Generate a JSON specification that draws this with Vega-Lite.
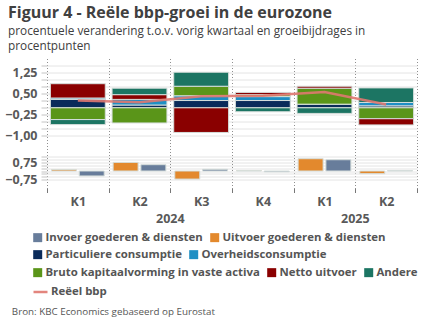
{
  "$schema": "https://vega.github.io/schema/vega-lite/v6.json",
  "width": 370,
  "height": 130,
  "padding": {"left": 0, "top": 4.5, "right": 5, "bottom": 5},
  "background": "white",
  "title": {
    "text": "Figuur 4 - Reële bbp-groei in de eurozone",
    "subtitle": ["procentuele verandering t.o.v. vorig kwartaal en groeibijdrages in", "procentpunten"],
    "anchor": "start",
    "frame": "bounds",
    "dx": 8,
    "font": "Open Sans",
    "fontSize": 16,
    "fontWeight": "bold",
    "color": "#404040",
    "subtitleFont": "Open Sans",
    "subtitleFontSize": 11.8,
    "subtitleColor": "#404040",
    "subtitleLineHeight": 14.5,
    "subtitlePadding": 5.5,
    "offset": 6
  },
  "datasets": {
    "comp": [
      {"kw": "2024 K1", "c": "Particuliere consumptie", "v": 0.30},
      {"kw": "2024 K1", "c": "Overheidsconsumptie", "v": 0.05},
      {"kw": "2024 K1", "c": "Bruto kapitaalvorming in vaste activa", "v": -0.42},
      {"kw": "2024 K1", "c": "Netto uitvoer", "v": 0.51},
      {"kw": "2024 K1", "c": "Andere", "v": -0.18},
      {"kw": "2024 K2", "c": "Particuliere consumptie", "v": 0.10},
      {"kw": "2024 K2", "c": "Overheidsconsumptie", "v": 0.20},
      {"kw": "2024 K2", "c": "Bruto kapitaalvorming in vaste activa", "v": -0.54},
      {"kw": "2024 K2", "c": "Netto uitvoer", "v": 0.17},
      {"kw": "2024 K2", "c": "Andere", "v": 0.23},
      {"kw": "2024 K3", "c": "Particuliere consumptie", "v": 0.26},
      {"kw": "2024 K3", "c": "Overheidsconsumptie", "v": 0.17},
      {"kw": "2024 K3", "c": "Bruto kapitaalvorming in vaste activa", "v": 0.34},
      {"kw": "2024 K3", "c": "Netto uitvoer", "v": -0.88},
      {"kw": "2024 K3", "c": "Andere", "v": 0.50},
      {"kw": "2024 K4", "c": "Particuliere consumptie", "v": 0.26},
      {"kw": "2024 K4", "c": "Overheidsconsumptie", "v": 0.14},
      {"kw": "2024 K4", "c": "Bruto kapitaalvorming in vaste activa", "v": 0.07},
      {"kw": "2024 K4", "c": "Netto uitvoer", "v": 0.08},
      {"kw": "2024 K4", "c": "Andere", "v": -0.14},
      {"kw": "2025 K1", "c": "Particuliere consumptie", "v": 0.12},
      {"kw": "2025 K1", "c": "Overheidsconsumptie", "v": 0.01},
      {"kw": "2025 K1", "c": "Bruto kapitaalvorming in vaste activa", "v": 0.57},
      {"kw": "2025 K1", "c": "Netto uitvoer", "v": 0.07},
      {"kw": "2025 K1", "c": "Andere", "v": -0.20},
      {"kw": "2025 K2", "c": "Particuliere consumptie", "v": 0.07},
      {"kw": "2025 K2", "c": "Overheidsconsumptie", "v": 0.12},
      {"kw": "2025 K2", "c": "Bruto kapitaalvorming in vaste activa", "v": -0.39},
      {"kw": "2025 K2", "c": "Netto uitvoer", "v": -0.22},
      {"kw": "2025 K2", "c": "Andere", "v": 0.52}
    ],
    "handel": [
      {"kw": "2024 K1", "c": "Uitvoer goederen & diensten", "v": 0.12},
      {"kw": "2024 K1", "c": "Invoer goederen & diensten", "v": -0.43},
      {"kw": "2024 K2", "c": "Uitvoer goederen & diensten", "v": 0.75},
      {"kw": "2024 K2", "c": "Invoer goederen & diensten", "v": 0.55},
      {"kw": "2024 K3", "c": "Uitvoer goederen & diensten", "v": -0.70},
      {"kw": "2024 K3", "c": "Invoer goederen & diensten", "v": 0.15},
      {"kw": "2024 K4", "c": "Uitvoer goederen & diensten", "v": 0.04},
      {"kw": "2024 K4", "c": "Invoer goederen & diensten", "v": -0.07},
      {"kw": "2025 K1", "c": "Uitvoer goederen & diensten", "v": 1.07},
      {"kw": "2025 K1", "c": "Invoer goederen & diensten", "v": 0.98},
      {"kw": "2025 K2", "c": "Uitvoer goederen & diensten", "v": -0.23},
      {"kw": "2025 K2", "c": "Invoer goederen & diensten", "v": 0.03}
    ],
    "bbp": [
      {"kw": "2024 K1", "v": 0.26},
      {"kw": "2024 K2", "v": 0.20},
      {"kw": "2024 K3", "v": 0.41},
      {"kw": "2024 K4", "v": 0.43},
      {"kw": "2025 K1", "v": 0.56},
      {"kw": "2025 K2", "v": 0.12}
    ]
  },
  "layer": [
    {
      "data": {"name": "handel"},
      "mark": {"type": "bar", "stroke": "#d6dedb", "strokeWidth": 1},
      "encoding": {
        "x": {
          "field": "kw", "type": "nominal",
          "scale": {"domain": ["2024 K1", "2024 K2", "2024 K3", "2024 K4", "2025 K1", "2025 K2"], "paddingInner": 0, "paddingOuter": 0},
          "axis": {
            "orient": "bottom", "offset": 23.5, "ticks": false, "domain": false, "grid": false,
            "labelPadding": 0, "labelAngle": 0, "labelOffset": 30.8,
            "values": ["2024 K2", "2025 K1"],
            "labelExpr": "datum.value == '2024 K2' ? '2024' : (datum.value == '2025 K1' ? '2025' : '')",
            "title": "Bron: KBC Economics gebaseerd op Eurostat",
            "titleX": -35.7, "titleY": 99.5, "titleAnchor": "start", "titleAlign": "left", "titleBaseline": "middle",
            "titleFont": "Open Sans", "titleFontWeight": "normal", "titleFontSize": 9.8, "titleColor": "#555555"
          }
        },
        "xOffset": {
          "field": "c", "type": "nominal",
          "scale": {"domain": ["Uitvoer goederen & diensten", "Invoer goederen & diensten"], "paddingInner": 0.1, "paddingOuter": 0.16}
        },
        "y": {
          "field": "v", "type": "quantitative",
          "scale": {"domain": [-1.52, 9.78], "nice": false, "zero": false},
          "axis": {
            "orient": "left", "title": null, "domain": false, "grid": true, "gridColor": "#e4e4e4",
            "tickSize": 6, "tickColor": "#c4c4c4", "labelPadding": 4, "minExtent": 47, "maxExtent": 47, "labelOverlap": false,
            "values": [-0.75, -0.5, -0.25, 0, 0.25, 0.5, 0.75, 1, 1.25],
            "labelExpr": "indexof([0.75, -0.75], datum.value) >= 0 ? replace(format(datum.value, '.2f'), '.', ',') : ''"
          }
        },
        "color": {
          "field": "c", "type": "nominal",
          "scale": {"domain": ["Invoer goederen & diensten", "Uitvoer goederen & diensten"], "range": ["#687d9b", "#e3892d"]},
          "legend": {"orient": "none", "legendX": -15, "legendY": 173, "direction": "horizontal", "title": null}
        }
      }
    },
    {
      "layer": [
        {
          "data": {"name": "comp"},
          "transform": [
            {"calculate": "indexof(['Particuliere consumptie','Overheidsconsumptie','Bruto kapitaalvorming in vaste activa','Netto uitvoer','Andere'], datum.c)", "as": "o"},
            {"stack": "v", "groupby": ["kw"], "sort": [{"field": "o", "order": "ascending"}], "as": ["y0", "y1"], "offset": "zero"},
            {"filter": {"field": "c", "oneOf": ["Particuliere consumptie", "Overheidsconsumptie"]}}
          ],
          "mark": {"type": "bar", "width": {"band": 0.89}, "stroke": "#d6dedb", "strokeWidth": 1},
          "encoding": {
            "x": {
              "field": "kw", "type": "nominal",
              "scale": {"domain": ["2024 K1", "2024 K2", "2024 K3", "2024 K4", "2025 K1", "2025 K2"], "paddingInner": 0, "paddingOuter": 0},
              "axis": {"orient": "bottom", "title": null, "tickBand": "extent", "grid": true, "gridDash": [1, 2], "gridColor": "#8f8f8f", "ticks": true, "tickSize": 4, "tickColor": "#777777", "domain": false, "labelExpr": "split(datum.value, ' ')[1]", "labelPadding": 3, "labelAngle": 0}
            },
            "y": {
              "field": "y0", "type": "quantitative",
              "scale": {"domain": [-2.88, 1.76], "nice": false, "zero": false},
              "axis": {
                "orient": "left", "title": null, "domain": false, "grid": true, "gridColor": "#e4e4e4",
                "tickSize": 6, "tickColor": "#c4c4c4", "labelPadding": 4, "minExtent": 47, "maxExtent": 47, "labelOverlap": false,
                "values": [-1, -0.75, -0.5, -0.25, 0, 0.25, 0.5, 0.75, 1, 1.25, 1.5],
                "labelExpr": "indexof([1.25, 0.5, -0.25, -1], datum.value) >= 0 ? replace(format(datum.value, '.2f'), '.', ',') : ''"
              }
            },
            "y2": {"field": "y1"},
            "color": {
              "field": "c", "type": "nominal",
              "scale": {"domain": ["Particuliere consumptie", "Overheidsconsumptie"], "range": ["#0a2b5a", "#1f8fc4"]},
              "legend": {"orient": "none", "legendX": -15, "legendY": 190, "direction": "horizontal", "title": null}
            }
          }
        },
        {
          "data": {"name": "comp"},
          "transform": [
            {"calculate": "indexof(['Particuliere consumptie','Overheidsconsumptie','Bruto kapitaalvorming in vaste activa','Netto uitvoer','Andere'], datum.c)", "as": "o"},
            {"stack": "v", "groupby": ["kw"], "sort": [{"field": "o", "order": "ascending"}], "as": ["y0", "y1"], "offset": "zero"},
            {"filter": {"field": "c", "oneOf": ["Bruto kapitaalvorming in vaste activa", "Netto uitvoer", "Andere"]}}
          ],
          "mark": {"type": "bar", "width": {"band": 0.89}, "stroke": "#d6dedb", "strokeWidth": 1},
          "encoding": {
            "x": {
              "field": "kw", "type": "nominal",
              "scale": {"domain": ["2024 K1", "2024 K2", "2024 K3", "2024 K4", "2025 K1", "2025 K2"], "paddingInner": 0, "paddingOuter": 0},
              "axis": {"orient": "bottom", "title": null, "tickBand": "extent", "grid": true, "gridDash": [1, 2], "gridColor": "#8f8f8f", "ticks": true, "tickSize": 4, "tickColor": "#777777", "domain": false, "labelExpr": "split(datum.value, ' ')[1]", "labelPadding": 3, "labelAngle": 0}
            },
            "y": {
              "field": "y0", "type": "quantitative",
              "scale": {"domain": [-2.88, 1.76], "nice": false, "zero": false},
              "axis": {
                "orient": "left", "title": null, "domain": false, "grid": true, "gridColor": "#e4e4e4",
                "tickSize": 6, "tickColor": "#c4c4c4", "labelPadding": 4, "minExtent": 47, "maxExtent": 47, "labelOverlap": false,
                "values": [-1, -0.75, -0.5, -0.25, 0, 0.25, 0.5, 0.75, 1, 1.25, 1.5],
                "labelExpr": "indexof([1.25, 0.5, -0.25, -1], datum.value) >= 0 ? replace(format(datum.value, '.2f'), '.', ',') : ''"
              }
            },
            "y2": {"field": "y1"},
            "color": {
              "field": "c", "type": "nominal",
              "scale": {"domain": ["Bruto kapitaalvorming in vaste activa", "Netto uitvoer", "Andere"], "range": ["#5a9519", "#8a0000", "#1c7563"]},
              "legend": {"orient": "none", "legendX": -15, "legendY": 208, "direction": "horizontal", "title": null}
            }
          }
        },
        {
          "data": {"name": "bbp"},
          "mark": {"type": "line", "strokeWidth": 2.5, "opacity": 0.9},
          "encoding": {
            "x": {
              "field": "kw", "type": "nominal",
              "scale": {"domain": ["2024 K1", "2024 K2", "2024 K3", "2024 K4", "2025 K1", "2025 K2"], "paddingInner": 0, "paddingOuter": 0},
              "axis": {"orient": "bottom", "title": null, "tickBand": "extent", "grid": true, "gridDash": [1, 2], "gridColor": "#8f8f8f", "ticks": true, "tickSize": 4, "tickColor": "#777777", "domain": false, "labelExpr": "split(datum.value, ' ')[1]", "labelPadding": 3, "labelAngle": 0}
            },
            "y": {
              "field": "v", "type": "quantitative",
              "scale": {"domain": [-2.88, 1.76], "nice": false, "zero": false},
              "axis": {
                "orient": "left", "title": null, "domain": false, "grid": true, "gridColor": "#e4e4e4",
                "tickSize": 6, "tickColor": "#c4c4c4", "labelPadding": 4, "minExtent": 47, "maxExtent": 47, "labelOverlap": false,
                "values": [-1, -0.75, -0.5, -0.25, 0, 0.25, 0.5, 0.75, 1, 1.25, 1.5],
                "labelExpr": "indexof([1.25, 0.5, -0.25, -1], datum.value) >= 0 ? replace(format(datum.value, '.2f'), '.', ',') : ''"
              }
            },
            "color": {
              "datum": "Reëel bbp", "type": "nominal",
              "scale": {"range": ["#e07870"]},
              "legend": {"orient": "none", "legendX": -15, "legendY": 225, "direction": "horizontal", "title": null, "symbolType": "stroke", "symbolSize": 196, "symbolStrokeWidth": 2.5}
            }
          }
        }
      ],
      "resolve": {"scale": {"color": "independent"}}
    }
  ],
  "resolve": {
    "scale": {"x": "independent", "y": "independent", "color": "independent"},
    "axis": {"x": "independent", "y": "independent"}
  },
  "config": {
    "view": {"stroke": null},
    "font": "Open Sans",
    "axis": {"labelFont": "Open Sans", "labelFontWeight": "bold", "labelFontSize": 12.5, "labelColor": "#595959"},
    "axisY": {"labelOverlap": false},
    "legend": {"labelFont": "Open Sans", "labelFontWeight": "bold", "labelFontSize": 11.4, "labelColor": "#555555", "labelLimit": 400, "symbolType": "square", "symbolSize": 81, "symbolStrokeWidth": 0, "labelOffset": 2, "columnPadding": 6, "padding": 0, "rowPadding": 0}
  }
}
